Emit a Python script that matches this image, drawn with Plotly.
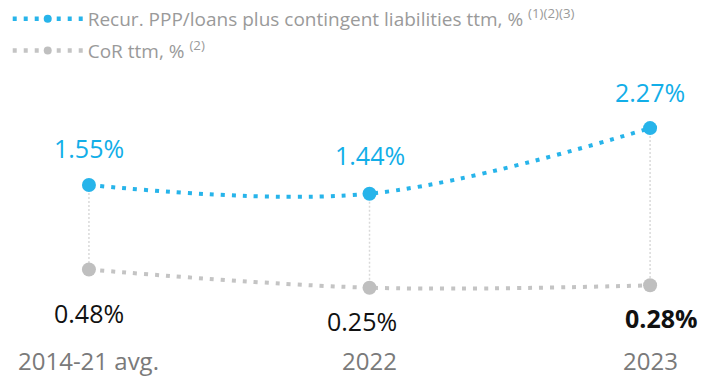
import plotly.graph_objects as go

# Categories and series values (%)
categories = ["2014-21 avg.", "2022", "2023"]
ppp_ratio = [1.55, 1.44, 2.27]
cor_ratio = [0.48, 0.25, 0.28]

ppp_name = "Recur. PPP/loans plus contingent liabilities ttm, % <sup>(1)(2)(3)</sup>"
cor_name = "CoR ttm, % <sup>(2)</sup>"

BLUE = "#27b4ea"
BLUE_TXT = "#12aee8"
GREY = "#c4c4c4"
GREY_MK = "#bfbfbf"
FONT = "Open Sans"
DOTS = "4px,7px"

x = list(range(len(categories)))

fig = go.Figure()

# vertical dotted connectors between the two series
drop_x, drop_y = [], []
for i, (a, b) in enumerate(zip(ppp_ratio, cor_ratio)):
    drop_x += [i, i, None]
    drop_y += [a, b, None]
fig.add_trace(go.Scatter(
    x=drop_x, y=drop_y, mode="lines", showlegend=False, hoverinfo="skip",
    line=dict(color="#d9d9d9", width=1.5, dash="2px,2px"),
))

fig.add_trace(go.Scatter(
    x=x, y=ppp_ratio, mode="lines+markers", showlegend=False,
    line=dict(color=BLUE, width=4, shape="spline", smoothing=1, dash=DOTS),
    marker=dict(color=BLUE, size=14),
))
fig.add_trace(go.Scatter(
    x=x, y=cor_ratio, mode="lines+markers", showlegend=False,
    line=dict(color=GREY, width=4, shape="spline", smoothing=1, dash=DOTS),
    marker=dict(color=GREY_MK, size=14),
))

# legend entries (smaller key markers than the plotted points)
for name, col, mk, grp in [(ppp_name, BLUE, BLUE, "a"), (cor_name, GREY, GREY_MK, "b")]:
    fig.add_trace(go.Scatter(
        x=[None], y=[None], mode="lines+markers", name=name, legendgroup=grp,
        line=dict(color=col, width=4.5, dash=DOTS),
        marker=dict(color=mk, size=8),
    ))

annotations = []
# value labels for the upper series
ppp_shift = [(0, 37), (0, 39), (0, 36)]
for i, v in enumerate(ppp_ratio):
    dx, dy = ppp_shift[i]
    annotations.append(dict(
        x=i, y=v, xref="x", yref="y", text=f"{v:.2f}%", showarrow=False,
        xshift=dx, yshift=dy, yanchor="middle",
        font=dict(family=FONT, size=25, color=BLUE_TXT),
    ))
# value labels for the lower series
cor_shift = [(0, -43), (-8, -33), (11, -33)]
for i, v in enumerate(cor_ratio):
    dx, dy = cor_shift[i]
    txt = f"{v:.2f}%"
    if i == len(cor_ratio) - 1:
        txt = f"<b>{txt}</b>"
    annotations.append(dict(
        x=i, y=v, xref="x", yref="y", text=txt, showarrow=False,
        xshift=dx, yshift=dy, yanchor="middle",
        font=dict(family=FONT, size=25, color="#111111"),
    ))
# category labels along the bottom
for i, c in enumerate(categories):
    annotations.append(dict(
        x=i, y=0.04, xref="x", yref="paper", text=c, showarrow=False,
        yanchor="middle",
        font=dict(family=FONT, size=24, color="#7a7a7a"),
    ))

fig.update_layout(
    width=702, height=376,
    margin=dict(l=0, r=0, t=0, b=0),
    paper_bgcolor="white", plot_bgcolor="white",
    xaxis=dict(range=[-0.317, 2.185], visible=False, fixedrange=True),
    yaxis=dict(range=[-0.868, 3.892], visible=False, fixedrange=True),
    showlegend=True,
    legend=dict(
        x=0.011, y=1.0, xanchor="left", yanchor="top",
        bgcolor="rgba(0,0,0,0)", itemwidth=70, tracegroupgap=4,
        font=dict(family=FONT, size=19, color="#9a9a9a"),
    ),
    annotations=annotations,
)

fig.write_html("out.html")
